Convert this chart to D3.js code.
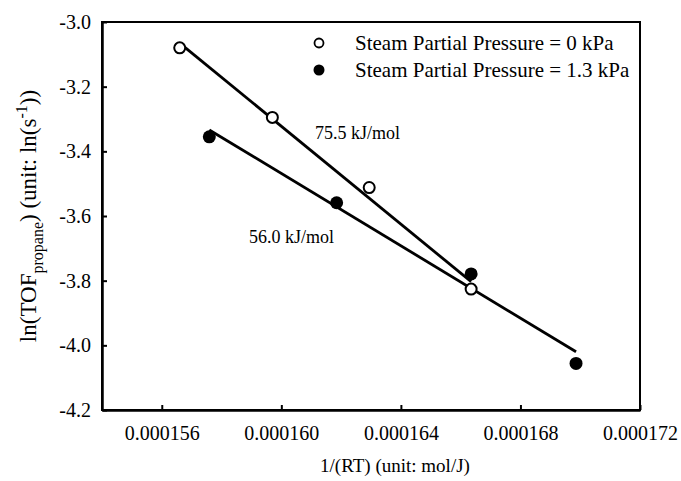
<!DOCTYPE html>
<html>
<head>
<meta charset="utf-8">
<script src="https://cdn.jsdelivr.net/npm/d3@7"></script>
<style>
  body { margin: 0; background: #fff; }
  svg text { font-family: "Liberation Serif", "Times New Roman", serif; fill: #000; }
</style>
</head>
<body>
<div id="chart"></div>
<script>
// Data
const xOpen = [0.0001566, 0.0001597, 0.00016294, 0.00016635];
const yOpen = [-3.080, -3.295, -3.512, -3.826];
const xFilled = [0.00015759, 0.00016185, 0.00016635, 0.00016986];
const yFilled = [-3.355, -3.559, -3.779, -4.056];

const seriesNames = ["Steam Partial Pressure = 0 kPa", "Steam Partial Pressure = 1.3 kPa"];
const energyLabels = ["75.5 kJ/mol", "56.0 kJ/mol"];
const xTicks = [0.000156, 0.000160, 0.000164, 0.000168, 0.000172];
const yTicks = [-3.0, -3.2, -3.4, -3.6, -3.8, -4.0, -4.2];

const serif = "'Liberation Serif', 'Times New Roman', serif";

// Layout
const width = 681, height = 481;
const margin = {top: 22, right: 41, bottom: 71, left: 102};
const innerW = width - margin.left - margin.right;
const innerH = height - margin.top - margin.bottom;

const svg = d3.select("#chart")
    .append("svg")
    .attr("width", width)
    .attr("height", height)
    .style("font-family", serif);

const g = svg.append("g")
    .attr("transform", `translate(${margin.left},${margin.top})`);

// Scales
const x = d3.scaleLinear()
    .domain([0.000154, 0.000172])
    .range([0, innerW]);

const y = d3.scaleLinear()
    .domain([-4.2, -3.0])
    .range([innerH, 0]);

// Frame (top and right)
g.append("rect")
    .attr("x", 0)
    .attr("y", 0)
    .attr("width", innerW)
    .attr("height", innerH)
    .attr("fill", "none")
    .attr("stroke", "#000")
    .attr("stroke-width", 2);

// Axes with inward ticks
const xAxis = g.append("g")
    .attr("transform", `translate(0,${innerH})`)
    .call(d3.axisBottom(x)
        .tickValues(xTicks)
        .tickFormat(d3.format(".6f"))
        .tickSizeInner(-5)
        .tickSizeOuter(0)
        .tickPadding(16));

const yAxis = g.append("g")
    .call(d3.axisLeft(y)
        .tickValues(yTicks)
        .tickFormat(d => d.toFixed(1))
        .tickSizeInner(-5)
        .tickSizeOuter(0)
        .tickPadding(11));

[xAxis, yAxis].forEach(ax => {
    ax.attr("font-family", null);
    ax.select(".domain").attr("stroke", "#000").attr("stroke-width", 2.5);
    ax.selectAll(".tick line").attr("stroke", "#000").attr("stroke-width", 2);
    ax.selectAll(".tick text")
        .style("font-family", serif)
        .style("font-size", "20px")
        .attr("fill", "#000");
});

// Axis titles
svg.append("text")
    .attr("text-anchor", "middle")
    .attr("x", 395)
    .attr("y", 472)
    .style("font-family", serif)
    .style("font-size", "19px")
    .text("1/(RT) (unit: mol/J)");

const yTitle = svg.append("text")
    .attr("text-anchor", "middle")
    .attr("transform", `translate(36,${margin.top + innerH / 2}) rotate(-90)`)
    .style("font-family", serif)
    .style("font-size", "23px");
yTitle.append("tspan").text("ln(TOF");
yTitle.append("tspan").attr("dy", 7).style("font-size", "16px").text("propane");
yTitle.append("tspan").attr("dy", -7).text(") (unit: ln(s");
yTitle.append("tspan").attr("dy", -9).style("font-size", "16px").text("-1");
yTitle.append("tspan").attr("dy", 9).text("))");

// Least-squares fit lines over each series' x range
function fitLine(xs, ys) {
    const mx = d3.mean(xs), my = d3.mean(ys);
    const sxy = d3.sum(xs, (v, i) => (v - mx) * (ys[i] - my));
    const sxx = d3.sum(xs, v => (v - mx) * (v - mx));
    const b = sxy / sxx, a = my - b * mx;
    const ex = d3.extent(xs);
    return ex.map(v => [v, a + b * v]);
}

const line = d3.line()
    .x(d => x(d[0]))
    .y(d => y(d[1]));

[[xOpen, yOpen], [xFilled, yFilled]].forEach(([xs, ys]) => {
    g.append("path")
        .datum(fitLine(xs, ys))
        .attr("fill", "none")
        .attr("stroke", "#000")
        .attr("stroke-width", 2.8)
        .attr("d", line);
});

// Points
g.selectAll(".open")
    .data(xOpen.map((v, i) => [v, yOpen[i]]))
    .enter()
    .append("circle")
    .attr("class", "open")
    .attr("cx", d => x(d[0]))
    .attr("cy", d => y(d[1]))
    .attr("r", 5.5)
    .attr("fill", "#fff")
    .attr("stroke", "#000")
    .attr("stroke-width", 2);

g.selectAll(".filled")
    .data(xFilled.map((v, i) => [v, yFilled[i]]))
    .enter()
    .append("circle")
    .attr("class", "filled")
    .attr("cx", d => x(d[0]))
    .attr("cy", d => y(d[1]))
    .attr("r", 6.5)
    .attr("fill", "#000");

// Activation energy labels
svg.append("text")
    .attr("x", 315)
    .attr("y", 139)
    .style("font-family", serif)
    .style("font-size", "18px")
    .text(energyLabels[0]);

svg.append("text")
    .attr("x", 249)
    .attr("y", 243)
    .style("font-family", serif)
    .style("font-size", "18px")
    .text(energyLabels[1]);

// Legend
const legend = svg.append("g")
    .attr("transform", "translate(319,43)");

seriesNames.forEach((name, i) => {
    const mark = legend.append("circle")
        .attr("cx", 0)
        .attr("cy", i * 27);
    if (i === 0) {
        mark.attr("r", 4.5).attr("fill", "#fff").attr("stroke", "#000").attr("stroke-width", 1.8);
    } else {
        mark.attr("r", 5.5).attr("fill", "#000");
    }
    legend.append("text")
        .attr("x", 36)
        .attr("y", i * 27 + 6.5)
        .style("font-family", serif)
        .style("font-size", "21px")
        .text(name);
});
</script>
</body>
</html>
